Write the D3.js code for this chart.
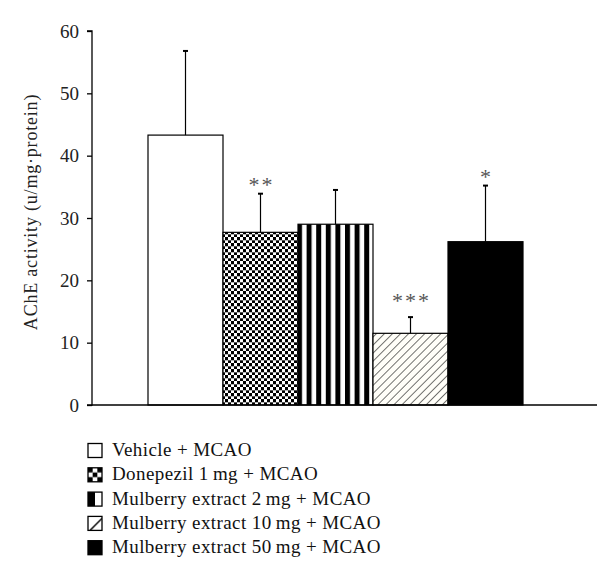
<!DOCTYPE html>
<html><head><meta charset="utf-8">
<script src="https://cdn.jsdelivr.net/npm/d3@7"></script>
<style>body{margin:0;background:#fff}svg{display:block}</style>
</head><body>
<svg id="c" width="600" height="580"></svg>
<script>
const categories = ["Vehicle + MCAO","Donepezil 1\u2009mg + MCAO","Mulberry extract 2\u2009mg + MCAO","Mulberry extract 10\u2009mg + MCAO","Mulberry extract 50\u2009mg + MCAO"];
const means = [43.3, 27.7, 29.0, 11.5, 26.2];
const errors = [13.5, 6.2, 5.5, 2.6, 9.0];
const stars = ["", "**", "", "***", "*"];
const fills = ["white","url(#checker)","url(#vstripe)","url(#hatch)","black"];
const legendFills = ["white","url(#lchecker)","url(#lhalf)","url(#ldiag)","black"];
const yTicks = [0,10,20,30,40,50,60];

const FONT = "Liberation Serif, Times New Roman, serif";
const svg = d3.select("#c");
const defs = svg.append("defs");
// checker
let p = defs.append("pattern").attr("id","checker").attr("patternUnits","userSpaceOnUse").attr("width",6).attr("height",6);
p.append("rect").attr("width",6).attr("height",6).attr("fill","#fff");
p.append("rect").attr("width",3).attr("height",3).attr("fill","#000");
p.append("rect").attr("x",3).attr("y",3).attr("width",3).attr("height",3).attr("fill","#000");
p.append("rect").attr("x",0).attr("y",0).attr("width",6).attr("height",0.6).attr("fill","#888");
// vertical stripes
p = defs.append("pattern").attr("id","vstripe").attr("patternUnits","userSpaceOnUse").attr("width",9.6).attr("height",10).attr("x",297);
p.append("rect").attr("width",9.6).attr("height",10).attr("fill","#fff");
p.append("rect").attr("width",5).attr("height",10).attr("fill","#000");
// hatch
p = defs.append("pattern").attr("id","hatch").attr("patternUnits","userSpaceOnUse").attr("width",5.7).attr("height",5.7).attr("patternTransform","rotate(45)");
p.append("rect").attr("width",5.7).attr("height",5.7).attr("fill","#fffef8");
p.append("line").attr("x1",0).attr("y1",0).attr("x2",0).attr("y2",5.7).attr("stroke","#000").attr("stroke-width",1.1);
// legend patterns
p = defs.append("pattern").attr("id","lchecker").attr("patternUnits","objectBoundingBox").attr("width",1).attr("height",1);
p.append("rect").attr("width",14).attr("height",14).attr("fill","#fff");
[[0,0],[2,0],[1,1],[0,2],[2,2]].forEach(([i,j])=>p.append("rect").attr("x",i*14/3).attr("y",j*14/3).attr("width",14/3).attr("height",14/3).attr("fill","#000"));
p = defs.append("pattern").attr("id","lhalf").attr("patternUnits","objectBoundingBox").attr("width",1).attr("height",1);
p.append("rect").attr("width",14).attr("height",14).attr("fill","#fff");
p.append("rect").attr("width",7).attr("height",14).attr("fill","#000");
p = defs.append("pattern").attr("id","ldiag").attr("patternUnits","objectBoundingBox").attr("width",1).attr("height",1);
p.append("rect").attr("width",14).attr("height",14).attr("fill","#fff");
p.append("line").attr("x1",2).attr("y1",14).attr("x2",14).attr("y2",2).attr("stroke","#000").attr("stroke-width",1.5);

const x0 = 92, x1 = 597, yb = 405, yt = 31;
const y = d3.scaleLinear().domain([0,60]).range([yb,yt]);
const x = d3.scaleBand().domain(categories).range([148,523]).paddingInner(0).paddingOuter(0);

// bars
svg.append("g").selectAll("rect").data(categories).join("rect")
  .attr("x",d=>x(d)).attr("width",x.bandwidth())
  .attr("y",(d,i)=>y(means[i])).attr("height",(d,i)=>yb-y(means[i]))
  .attr("fill",(d,i)=>fills[i]).attr("stroke","#000").attr("stroke-width",1.2);

// error bars
const eg = svg.append("g").attr("stroke","#000").attr("stroke-width",1.2);
categories.forEach((c,i)=>{
  const cx = x(c)+x.bandwidth()/2;
  eg.append("line").attr("x1",cx).attr("x2",cx).attr("y1",y(means[i])).attr("y2",y(means[i]+errors[i]));
  eg.append("line").attr("x1",cx-2.5).attr("x2",cx+2.5).attr("y1",y(means[i]+errors[i])).attr("y2",y(means[i]+errors[i])).attr("stroke-width",2);
});
// stars
svg.append("g").selectAll("text").data(categories).join("text")
  .attr("x",d=>x(d)+x.bandwidth()/2+1)
  .attr("y",(d,i)=>y(means[i]+errors[i])-(stars[i].length===3?9:2))
  .attr("text-anchor","middle")
  .attr("font-family",FONT).attr("font-size",22).attr("fill","#555")
  .attr("letter-spacing",2)
  .text((d,i)=>stars[i]);

// y axis
const ya = svg.append("g").attr("transform",`translate(${x0},0)`)
  .call(d3.axisLeft(y).tickValues(yTicks).tickSize(5).tickPadding(8));
ya.select(".domain").attr("stroke-width",1.3).attr("d",`M-5,${yt}H0V${yb}H-5`);
ya.selectAll("line").attr("stroke-width",1.3);
ya.selectAll("text").attr("font-family",FONT).attr("font-size",19).attr("fill","#222");
// x axis line
svg.append("line").attr("x1",x0).attr("x2",x1).attr("y1",yb).attr("y2",yb).attr("stroke","#000").attr("stroke-width",1.3);

// y label
svg.append("text").attr("transform",`translate(37,${212}) rotate(-90)`)
  .attr("text-anchor","middle").attr("font-family",FONT).attr("font-size",18).attr("letter-spacing",0.8).attr("fill","#222")
  .text("AChE activity (u/mg\u00b7protein)");

// legend
const lg = svg.append("g").selectAll("g").data(categories).join("g")
  .attr("transform",(d,i)=>`translate(88,${443.5+i*24.3})`);
lg.append("rect").attr("width",14).attr("height",14).attr("fill",(d,i)=>legendFills[i]).attr("stroke","#000").attr("stroke-width",1.3);
lg.append("text").attr("x",24).attr("y",12.5).attr("font-family",FONT).attr("font-size",19).attr("letter-spacing",0.4).attr("fill","#111").text(d=>d);
</script>
</body></html>
